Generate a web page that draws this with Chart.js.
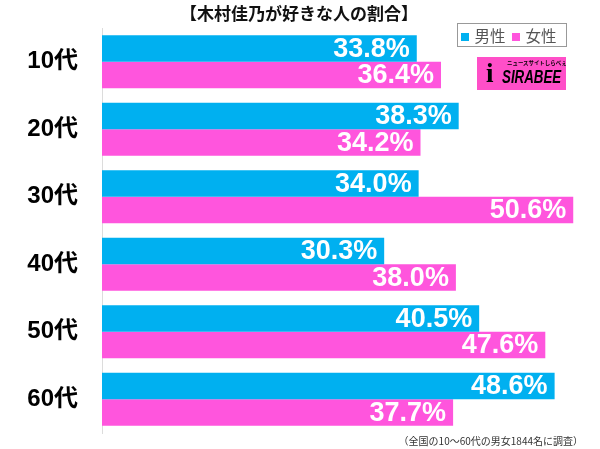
<!DOCTYPE html>
<html>
<head>
<meta charset="utf-8">
<script src="https://cdn.jsdelivr.net/npm/chart.js@4/dist/chart.umd.min.js"></script>
<style>
  body { margin: 0; background: #fff; }
  #wrap { position: relative; width: 600px; height: 449px; font-family: "Noto Sans CJK JP", "Liberation Sans", sans-serif; }
  #title { position: absolute; left: 0; top: 0px; width: 598px; text-align: center; font-size: 17px; font-weight: bold; color: #111; }
  #legend { position: absolute; left: 457px; top: 23px; width: 108px; height: 22px; border: 1px solid #999; font-size: 15.5px; color: #555; line-height: 22px; }
  #legend span.sq { display: inline-block; width: 8px; height: 8px; vertical-align: 1px; margin-right: 5px; }
  #logo { position: absolute; left: 477px; top: 57px; width: 89px; height: 33px; background: #ff4fc8; overflow: hidden; }
  #logo .sub { position: absolute; left: 30px; top: 2px; font-size: 8px; color: #000; font-weight: bold; white-space: nowrap; transform: scale(0.68); transform-origin: left top; }
  #logo .main { position: absolute; left: 25px; top: 10px; font-family: "Liberation Sans", sans-serif; font-weight: bold; font-style: italic; font-size: 18px; color: #000; white-space: nowrap; transform: scaleX(0.74); transform-origin: left top; }
  #logo .ic { position: absolute; left: 9px; top: 1px; font-family: "Liberation Serif", serif; font-weight: bold; font-size: 27px; color: #000; }
  #note { position: absolute; right: 17px; top: 433px; font-size: 10px; color: #333; }
  canvas { position: absolute; left: 0; top: 0; }
</style>
</head>
<body>
<div id="wrap">
  <canvas id="chart" width="600" height="449"></canvas>
  <div id="title">【木村佳乃が好きな人の割合】</div>
  <div id="legend">&nbsp;<span class="sq" style="background:#00b0f0"></span>男性&nbsp;&nbsp;<span class="sq" style="background:#ff55dd"></span>女性</div>
  <div id="logo"><span class="ic">i</span><span class="sub">ニュースサイトしらべぇ</span><span class="main">SIRABEE</span></div>
  <div id="note">（全国の10〜60代の男女1844名に調査）</div>
</div>
<script>
// values
const categories = ['10代', '20代', '30代', '40代', '50代', '60代'];
const male = [33.8, 38.3, 34.0, 30.3, 40.5, 48.6];
const female = [36.4, 34.2, 50.6, 38.0, 47.6, 37.7];

// white percentage labels inside the bar ends
const barLabels = {
  id: 'barLabels',
  afterDatasetsDraw(chart) {
    const c = chart.ctx;
    c.save();
    c.font = 'bold 27px "Liberation Sans", Arial, sans-serif';
    c.fillStyle = '#fff';
    c.textAlign = 'right';
    c.textBaseline = 'middle';
    chart.data.datasets.forEach((ds, i) => {
      chart.getDatasetMeta(i).data.forEach((bar, j) => {
        c.fillText(ds.data[j].toFixed(1) + '%', bar.x - 7, bar.y + 1);
      });
    });
    c.restore();
  }
};

new Chart(document.getElementById('chart'), {
  type: 'bar',
  data: {
    labels: categories,
    datasets: [
      { label: '男性', data: male, backgroundColor: '#00b0f0' },
      { label: '女性', data: female, backgroundColor: '#ff55dd' }
    ]
  },
  options: {
    indexAxis: 'y',
    responsive: false,
    animation: false,
    layout: { padding: { top: 28, bottom: 16, right: 10, left: 0 } },
    datasets: { bar: { categoryPercentage: 0.785, barPercentage: 1 } },
    plugins: { legend: { display: false }, title: { display: false }, tooltip: { enabled: false } },
    scales: {
      x: { min: 0, max: 52.4, display: false },
      y: {
        afterFit: (s) => { s.width = 102; s.paddingTop = 0; s.paddingBottom = 0; },
        grid: { display: false, drawTicks: false },
        border: { display: true, color: '#dcdcdc', width: 1 },
        ticks: { padding: 24, color: '#000', font: { family: '"Liberation Sans", "Noto Sans CJK JP", sans-serif', size: 24, weight: 'bold' } }
      }
    }
  },
  plugins: [barLabels]
});
</script>
</body>
</html>
